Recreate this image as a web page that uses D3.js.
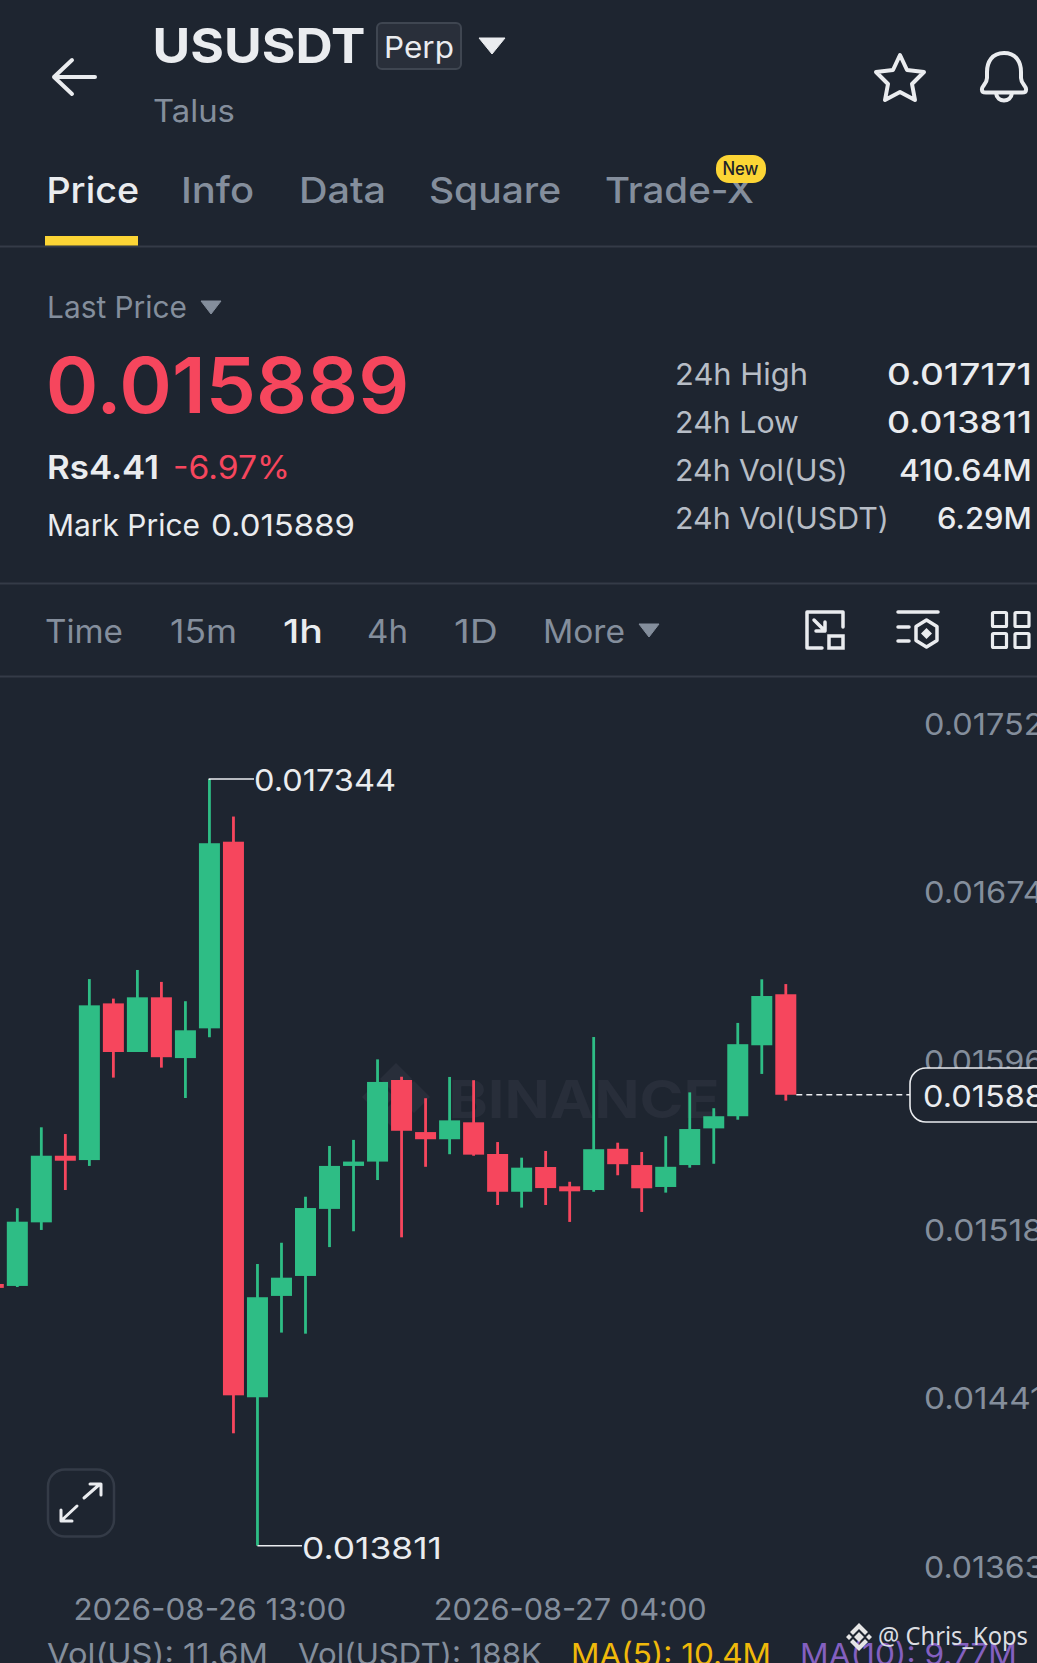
<!DOCTYPE html>
<html>
<head>
<meta charset="utf-8">
<title>USUSDT Perp</title>
<script src="https://cdn.jsdelivr.net/npm/d3@7"></script>
<style>
html, body { margin: 0; padding: 0; background: #1e2530; overflow: hidden; }
svg { display: block; font-family: Inter, "Noto Sans", sans-serif; }
</style>
</head>
<body>
<div id="chart"></div>
<script>
// candles, one per hour, prices
var opens = [0.015017,0.015008,0.015301,0.015608,0.015588,0.016310,0.016086,0.016338,0.016058,0.016195,0.017055,0.014495,0.014962,0.015054,0.015363,0.015561,0.015581,0.015957,0.015717,0.015684,0.015762,0.015616,0.015442,0.015556,0.015467,0.015450,0.015640,0.015565,0.015464,0.015565,0.015734,0.015790,0.016117,0.016352];
var closes = [0.014999,0.015304,0.015608,0.015585,0.016301,0.016086,0.016338,0.016062,0.016186,0.017048,0.014504,0.014956,0.015046,0.015367,0.015561,0.015581,0.015948,0.015723,0.015684,0.015771,0.015613,0.015442,0.015553,0.015459,0.015444,0.015638,0.015569,0.015458,0.015557,0.015731,0.015790,0.016122,0.016344,0.015889];
var highs = [0.015026,0.015366,0.015739,0.015708,0.016422,0.016332,0.016464,0.016409,0.016320,0.017344,0.017171,0.015109,0.015207,0.015419,0.015653,0.015681,0.016052,0.015972,0.015873,0.015971,0.015956,0.015671,0.015599,0.015630,0.015488,0.016155,0.015668,0.015625,0.015698,0.015900,0.015827,0.016220,0.016421,0.016399];
var lows = [0.014989,0.015003,0.015266,0.015450,0.015561,0.015968,0.016086,0.016014,0.015874,0.016154,0.014329,0.013811,0.014793,0.014788,0.015187,0.015260,0.015496,0.015232,0.015557,0.015615,0.015608,0.015381,0.015369,0.015381,0.015303,0.015442,0.015518,0.015349,0.015438,0.015553,0.015571,0.015774,0.015985,0.015862];

var priceTicks = [0.017520,0.016743,0.015966,0.015189,0.014412,0.013635];
var timeTickIndex = [9,24];
var timeTickLabels = ['2026-08-26 13:00','2026-08-27 04:00'];
var highPrice = 0.017344, highIndex = 9;
var lowPrice = 0.013811, lowIndex = 11;
var lastPrice = 0.015889, lastIndex = 33;

var tabs = ['Price','Info','Data','Square','Trade-X'];
var intervals = ['Time','15m','1h','4h','1D','More'];
var statNames = ['24h High','24h Low','24h Vol(US)','24h Vol(USDT)'];
var statValues = ['0.017171','0.013811','410.64M','6.29M'];

var width = 1037, height = 1663;
var bg = '#1e2530', green = '#2ebd85', red = '#f6465d', white = '#eaecef', grey = '#848e9c', line = '#343b47', mark = '#282e3a';

var svg = d3.select('#chart').append('svg')
	.attr('width', width)
	.attr('height', height);

svg.append('rect').attr('width', width).attr('height', height).attr('fill', bg);

function label(x, y, text, size, color, weight, w, anchor) {
	// w is the inked width in the picture, advance width is a little more
	var pad = w ? size * 0.03 : 0;
	var t = svg.append('text')
		.attr('x', anchor === 'end' ? x + pad : x - pad)
		.attr('y', y)
		.attr('font-size', size)
		.attr('fill', color)
		.attr('font-weight', weight || 400)
		.attr('text-anchor', anchor || 'start')
		.text(text);
	if (w) t.attr('textLength', w + pad * 2).attr('lengthAdjust', 'spacingAndGlyphs');
	return t;
}

function hline(y) {
	svg.append('rect').attr('x', 0).attr('y', y).attr('width', width).attr('height', 2).attr('fill', line);
}

function tri(x0, x1, y0, y1, color) {
	svg.append('path')
		.attr('d', 'M' + x0 + ',' + y0 + 'L' + x1 + ',' + y0 + 'L' + ((x0 + x1) / 2) + ',' + y1 + 'Z')
		.attr('fill', color)
		.attr('stroke', color)
		.attr('stroke-width', 1)
		.attr('stroke-linejoin', 'round');
}

function icon(d, sw) {
	svg.append('path')
		.attr('d', d)
		.attr('fill', 'none')
		.attr('stroke', white)
		.attr('stroke-width', sw || 3.5)
		.attr('stroke-linecap', 'round')
		.attr('stroke-linejoin', 'round');
}

// header
icon('M95,77L54,77M72,60L54,77L72,94', 4);
label(154, 63, 'USUSDT', 48, white, 700, 210);
svg.append('rect').attr('x', 377).attr('y', 23).attr('width', 84).attr('height', 46).attr('rx', 5)
	.attr('fill', '#292f3a').attr('stroke', '#3f4651').attr('stroke-width', 2);
label(385, 58, 'Perp', 30, white, 400, 68);
tri(479, 505, 38, 54, white);
label(154, 121.5, 'Talus', 31, grey, 400, 80);

// star and bell
icon('M900,55L907,70L924,72L912,84L915,100L900,92L885,100L888,84L876,72L893,70Z', 4);
icon('M1004,53C992,53 987,62 987,72L987,78C987,84 981,86 982,90C982,92 984,92.5 986,92.5L1022,92.5C1024,92.5 1026,92 1026,90C1027,86 1021,84 1021,78L1021,72C1021,62 1016,53 1004,53ZM996,93C997,103 1011,103 1012,93', 4);

// tabs
var tabX = [47.5,182,300,430,606], tabW = [90.5,71,85,130,147];
tabs.forEach(function(name, i) {
	label(tabX[i], 202.5, name, 36, i === 0 ? white : grey, 500, tabW[i]);
});
svg.append('rect').attr('x', 716).attr('y', 155).attr('width', 50).attr('height', 28).attr('rx', 13).attr('fill', '#fcd535');
label(741, 175, 'New', 18, '#1e2329', 500, 35, 'middle');
hline(245.5);
svg.append('rect').attr('x', 45).attr('y', 236).attr('width', 93).attr('height', 9.5).attr('fill', '#fcd535');

// price block
label(48, 318, 'Last Price', 30, grey, 400, 138);
tri(201, 221, 301, 314, grey);
label(48, 413, d3.format('.6f')(lastPrice), 77, red, 600, 359);
label(48, 479, 'Rs4.41', 33, white, 600, 110);
label(174, 479, '-6.97%', 32, red, 400, 115);
label(48, 536, 'Mark Price', 30, white, 400, 151);
label(212, 536, d3.format('.6f')(lastPrice), 30, white, 400, 142);

var statY = [385,432.5,481,529], statW = [131,122,171,212], valW = [143,143,131,93];
statNames.forEach(function(name, i) {
	label(676, statY[i], name, 30, '#b7bdc6', 400, statW[i]);
	label(1031, statY[i], statValues[i], 30, white, 500, valW[i], 'end');
});

hline(582.5);

// interval row
var intX = [46,171,284,368,455,544], intW = [76,65,38,39,42,80];
intervals.forEach(function(name, i) {
	label(intX[i], 643, name, 32, i === 2 ? white : grey, i === 2 ? 500 : 400, intW[i]);
});
tri(639, 659, 624, 637, grey);

// toolbar icons
icon('M822,648L807,648L807,612L843,612L843,627M814,620L825,631M825,622L825,631L816,631');
svg.append('rect').attr('x', 829).attr('y', 636).attr('width', 14).attr('height', 12).attr('fill', 'none').attr('stroke', white).attr('stroke-width', 3.5);
icon('M898,612L938,612M898,627L909,627M898,641L909,641M926.5,620L937,626.5L937,640.5L926.5,647L916,640.5L916,626.5Z');
svg.append('path').attr('d', 'M926.5,628L932,633.5L926.5,639L921,633.5Z').attr('fill', white);
[[992.5,612.5],[1015,612.5],[992.5,633.5],[1015,633.5]].forEach(function(p) {
	svg.append('rect').attr('x', p[0]).attr('y', p[1]).attr('width', 14).attr('height', 14).attr('rx', 1)
		.attr('fill', 'none').attr('stroke', white).attr('stroke-width', 3.2);
});
hline(675.5);

// scales
var x = d3.scaleLinear().domain([0, 33]).range([-6.7, 785.8]);
var y = d3.scaleLinear().domain([highPrice, lowPrice]).range([779, 1545.7]);
var bodyW = 21, wickW = 2.8;

// faint watermark under the candles
svg.append('path')
	.attr('d', 'M396,1063L412,1079L396,1095L380,1079ZM378,1081L394,1097L378,1113L362,1097ZM414,1081L430,1097L414,1113L398,1097ZM396,1099L412,1115L396,1131L380,1115Z')
	.attr('fill', mark);
label(450, 1118, 'BINANCE', 52, mark, 700, 268);

var candles = opens.map(function(o, i) {
	return { i: i, open: o, close: closes[i], high: highs[i], low: lows[i] };
});
var plot = svg.append('g');
plot.selectAll('.wick').data(candles).enter().append('rect')
	.attr('class', 'wick')
	.attr('x', function(d) { return x(d.i) - wickW / 2; })
	.attr('y', function(d) { return y(d.high); })
	.attr('width', wickW)
	.attr('height', function(d) { return y(d.low) - y(d.high); })
	.attr('fill', function(d) { return d.close > d.open ? green : red; });
plot.selectAll('.body').data(candles).enter().append('rect')
	.attr('class', 'body')
	.attr('x', function(d) { return x(d.i) - bodyW / 2; })
	.attr('y', function(d) { return y(Math.max(d.open, d.close)); })
	.attr('width', bodyW)
	.attr('height', function(d) { return Math.abs(y(d.open) - y(d.close)); })
	.attr('fill', function(d) { return d.close > d.open ? green : red; });

// price axis, labels sit above their tick
var yAxis = svg.append('g')
	.attr('transform', 'translate(924,0)')
	.call(d3.axisRight(y).tickValues(priceTicks).tickSize(0).tickPadding(0).tickFormat(d3.format('.6f')));
yAxis.select('.domain').remove();
yAxis.selectAll('text')
	.attr('font-family', 'Inter')
	.attr('font-size', 30)
	.attr('fill', grey)
	.attr('textLength', 140)
	.attr('lengthAdjust', 'spacingAndGlyphs')
	.attr('dy', -6.5);

// high and low callouts
svg.append('path')
	.attr('d', 'M' + x(highIndex) + ',' + (y(highPrice) + 1) + 'L' + x(highIndex) + ',' + y(highPrice) + 'L254,' + y(highPrice))
	.attr('fill', 'none').attr('stroke', white).attr('stroke-width', 1.6);
label(255, 790.5, d3.format('.6f')(highPrice), 30, white, 400, 140);
svg.append('path')
	.attr('d', 'M' + x(lowIndex) + ',' + y(lowPrice) + 'L302,' + y(lowPrice))
	.attr('fill', 'none').attr('stroke', white).attr('stroke-width', 1.6);
label(303, 1558.5, d3.format('.6f')(lowPrice), 30, white, 400, 138);

// last price line and tag
svg.append('line')
	.attr('x1', x(lastIndex) + bodyW / 2).attr('x2', 910)
	.attr('y1', y(lastPrice)).attr('y2', y(lastPrice))
	.attr('stroke', white).attr('stroke-width', 1.6).attr('stroke-dasharray', '6,4');
svg.append('rect').attr('x', 910).attr('y', 1068).attr('width', 160).attr('height', 54).attr('rx', 16)
	.attr('fill', bg).attr('stroke', white).attr('stroke-width', 1.6);
label(924, 1106.5, d3.format('.6f')(lastPrice), 30, white, 400, 140);

// expand button
svg.append('rect').attr('x', 48).attr('y', 1469.5).attr('width', 66).attr('height', 67).attr('rx', 17)
	.attr('fill', 'none').attr('stroke', line).attr('stroke-width', 2.5);
icon('M84,1498L100,1484M90,1484L101,1484L101,1495M77,1506L62,1520M61,1510L61,1521L72,1521', 3);

// time axis
var xAxis = svg.append('g')
	.attr('transform', 'translate(0,1599)')
	.call(d3.axisBottom(x).tickValues(timeTickIndex).tickSize(0).tickPadding(0)
		.tickFormat(function(d) { return timeTickLabels[timeTickIndex.indexOf(d)]; }));
xAxis.select('.domain').remove();
xAxis.selectAll('text')
	.attr('font-family', 'Inter')
	.attr('font-size', 30)
	.attr('fill', grey)
	.attr('textLength', 273)
	.attr('lengthAdjust', 'spacingAndGlyphs');

// volume legend, clipped by the bottom edge
label(48, 1665, 'Vol(US): 11.6M', 30, grey, 400, 219);
label(299, 1665, 'Vol(USDT): 188K', 30, grey, 400, 242);
label(572, 1665, 'MA(5): 10.4M', 30, '#f0b90b', 400, 198);
label(801, 1665, 'MA(10): 9.77M', 30, '#8460c0', 400, 215);

// source mark over the legend
svg.append('path')
	.attr('d', 'M859,1623L868,1632L865,1635L859,1629L853,1635L850,1632Z M859,1651L868,1642L865,1639L859,1645L853,1639L850,1642Z M859,1632L864,1637L859,1642L854,1637Z M849,1634L852,1637L849,1640L846,1637Z M869,1634L872,1637L869,1640L866,1637Z')
	.attr('fill', '#e6e6e6');
svg.append('text').attr('x', 878).attr('y', 1645)
	.attr('font-family', '"Noto Sans"').attr('font-size', 26).attr('fill', '#dcdee2')
	.attr('textLength', 150).attr('lengthAdjust', 'spacingAndGlyphs')
	.text('@ Chris_Kops');
</script>
</body>
</html>
